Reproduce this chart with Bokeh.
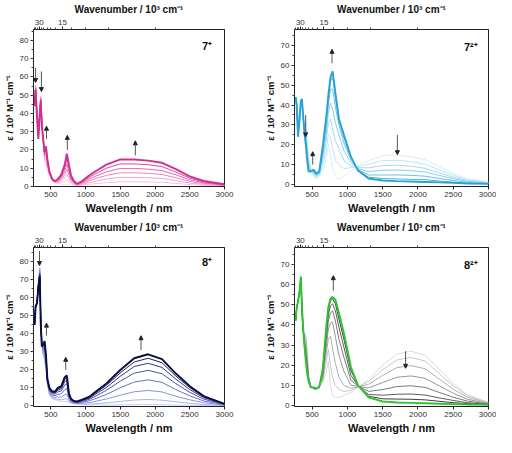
from bokeh.plotting import figure
from bokeh.layouts import gridplot
from bokeh.models import (LinearAxis, FixedTicker, CustomJSTickFormatter, Range1d,
                          Arrow, NormalHead, Label)
from bokeh.embed import file_html
from bokeh.resources import INLINE

FONT = "Liberation Sans"

# ---------------- data ----------------
WL = [265, 280, 300, 320, 340, 355, 370, 390, 410, 430, 450, 480, 520, 560, 600,
      650, 700, 730, 760, 790, 830, 880, 950, 1050, 1150, 1300, 1500, 1700, 1900,
      2100, 2300, 2500, 2700, 3000]

x_ticks = [500, 1000, 1500, 2000, 2500, 3000]
wavenumber_ticks = [30, 15]
wavenumber_minor = [37.5, 35, 32.5, 27.5, 25, 22.5, 20, 17.5, 12.5, 10, 7.5, 5]

# panel 1 : 7+
p1_curves = [
    [46, 56, 42, 29, 42, 50, 38, 24, 13, 12, 9, 6, 3, 2, 1.5, 1.2, 1, 1, 0.8, 0.6, 0.5, 0.4, 0.3, 0.2, 0.2, 0.1, 0.1, 0.1, 0.1, 0.1, 0.1, 0.1, 0.1, 0.1],
    [45.7, 55.5, 41.5, 28.5, 41.7, 49.5, 37, 24.5, 14, 13.5, 10, 6.3, 3.2, 2.2, 1.9, 2.1, 2.8, 3.8, 2.7, 1.5, 0.9, 0.6, 0.8, 1.2, 1.6, 2.1, 2.6, 2.6, 2.5, 2.3, 1.7, 1, 0.6, 0.3],
    [45.3, 55, 41, 28, 41.3, 49, 36.5, 24.5, 15, 15, 11, 6.7, 3.3, 2.3, 2.3, 3, 4.7, 6.7, 4.5, 2.4, 1.3, 0.8, 1.2, 2.1, 3, 4.1, 5, 5, 4.8, 4.4, 3.2, 1.9, 1.1, 0.5],
    [45, 54.5, 40, 27.5, 41, 48.5, 35.5, 25, 16, 17, 12, 7, 3.5, 2.5, 2.8, 3.9, 6.5, 9.5, 6.4, 3.3, 1.8, 1, 1.7, 3.1, 4.4, 6.1, 7.5, 7.5, 7.2, 6.6, 4.8, 2.8, 1.6, 0.7],
    [44.7, 54, 39.5, 27, 40.7, 48, 34.5, 25.5, 17, 18.5, 13, 7.3, 3.7, 2.7, 3.2, 4.7, 8.3, 12.3, 8.3, 4.2, 2.2, 1.1, 2.1, 4.1, 5.7, 8, 9.9, 9.9, 9.5, 8.7, 6.4, 3.7, 2, 0.8],
    [44.3, 53.5, 39, 26.5, 40.3, 47.5, 34, 25.5, 18, 20.5, 14, 7.7, 3.8, 2.8, 3.6, 5.6, 10.2, 15.2, 10.1, 5.1, 2.6, 1.3, 2.6, 5, 7.1, 10, 12.4, 12.4, 11.9, 10.9, 7.9, 4.6, 2.5, 1],
    [44, 53, 38, 26, 40, 47, 33, 26, 19, 22, 15, 8, 4, 3, 4, 6.5, 12, 18, 12, 6, 3, 1.5, 3, 6, 8.5, 12, 14.8, 14.8, 14.2, 13, 9.5, 5.5, 3, 1.2],
]
p1_colors = ["#fbe0ee", "#f5c3de", "#eea5ce", "#e788be", "#e06aae", "#d94b9d", "#d0308c"]

# panel 2 : 7(2+)
p2_curves = [
    [44, 44, 30, 28, 38, 40, 33, 30, 33, 22, 14, 8, 4, 3, 4, 7, 13, 20, 15, 8, 4, 2.5, 4, 7, 9.5, 12, 14.5, 14.8, 14, 12.5, 9, 5.5, 3, 1.2],
    [44, 43.3, 28.8, 29, 38.8, 40.6, 33.6, 29.2, 30.4, 20, 12.5, 7.7, 4.7, 3.5, 4.5, 9.5, 17, 25, 24, 18, 12, 10, 8, 8.5, 9, 10.2, 12, 12.2, 11.5, 10.3, 7.4, 4.6, 2.5, 1],
    [44, 42.5, 27.6, 30, 39.6, 41.2, 34.2, 28.4, 27.8, 18, 11, 7.4, 5.4, 4, 5, 12, 22, 31, 33, 28, 22, 18, 12, 9.5, 8.5, 8.4, 9.5, 9.7, 9.2, 8.2, 5.9, 3.7, 2, 0.8],
    [44, 41.9, 26.5, 30.8, 40.4, 41.8, 34.8, 27.7, 25.5, 16.5, 9.6, 7.2, 6, 4.4, 5.5, 14, 26, 36, 41, 38, 31, 25, 17, 11, 8, 6.5, 7.2, 7.3, 7, 6.3, 4.6, 2.9, 1.6, 0.7],
    [44, 41.2, 25.5, 31.6, 41, 42.3, 35.3, 27, 23.3, 14.8, 8.3, 6.9, 6.6, 4.9, 6, 16, 29.5, 40, 48, 48, 39, 30, 21, 12.5, 7.5, 4.8, 4.8, 4.8, 4.6, 4.2, 3.1, 2, 1.1, 0.5],
    [44, 40.6, 24.6, 32.3, 41.6, 42.7, 35.7, 26.4, 21.5, 13.2, 7.3, 6.7, 7.1, 5.2, 6.3, 17.5, 32, 43, 52, 54, 44, 32, 23.5, 13.5, 7.2, 3.7, 3, 2.8, 2.6, 2.4, 1.8, 1.2, 0.7, 0.4],
    [44, 40, 24, 33, 42, 43, 36, 26, 20, 12, 6.5, 6.5, 7.5, 5.5, 6.5, 19, 34, 45, 54, 57, 46, 33, 25, 14, 7, 3, 2, 1.7, 1.5, 1.3, 1.1, 0.8, 0.5, 0.3],
]
p2_colors = ["#d5eef8", "#bfe5f4", "#a5daef", "#88cdea", "#6cc0e4", "#4fb3dd", "#29a3d6"]

# panel 3 : 8+
p3_curves = [
    [45, 55, 58, 68, 77, 50, 36, 28, 25, 20, 12, 6, 4, 3.5, 3, 2.5, 2.5, 2.5, 2, 1.5, 1.2, 1, 0.8, 0.6, 0.5, 0.5, 0.6, 0.7, 0.8, 0.7, 0.5, 0.4, 0.3, 0.2],
    [45, 55, 58, 67.8, 76.5, 49.5, 35.7, 28.6, 26.1, 20.8, 12.3, 6.4, 4.4, 4, 3.7, 3.4, 3.9, 4, 2.5, 1.8, 1.4, 1.2, 1.1, 1, 1.3, 1.7, 2.5, 3.3, 3.6, 3.2, 2.3, 1.5, 0.8, 0.3],
    [45, 55, 57.7, 67.4, 75.6, 48.6, 35.2, 29.7, 28.1, 22.2, 12.8, 7.1, 5.1, 4.8, 5, 4.9, 6.3, 6.6, 3.4, 2.2, 1.6, 1.4, 1.6, 1.8, 2.6, 3.9, 6, 7.9, 8.6, 7.8, 5.4, 3.4, 1.8, 0.5],
    [45, 55, 57.5, 67, 74.5, 47.5, 34.5, 30.9, 30.4, 23.9, 13.5, 8, 6, 5.7, 6.4, 6.7, 9.1, 9.6, 4.5, 2.7, 2, 1.7, 2.1, 2.8, 4.2, 6.4, 10.1, 13.3, 14.5, 13.1, 9.1, 5.6, 2.8, 0.7],
    [45, 55, 57.3, 66.6, 73.6, 46.6, 34, 32.1, 32.5, 25.4, 14, 8.7, 6.7, 6.6, 7.8, 8.3, 11.7, 12.4, 5.4, 3.2, 2.3, 2, 2.6, 3.6, 5.6, 8.7, 13.8, 18.2, 19.8, 17.9, 12.4, 7.6, 3.8, 0.9],
    [45, 55, 57.2, 66.4, 72.9, 45.9, 33.5, 32.9, 34, 26.6, 14.5, 9.3, 7.3, 7.2, 8.7, 9.5, 13.6, 14.4, 6.1, 3.6, 2.5, 2.2, 3, 4.2, 6.7, 10.3, 16.5, 21.9, 23.7, 21.4, 14.9, 9.1, 4.6, 1],
    [45, 55, 57.1, 66.2, 72.4, 45.4, 33.2, 33.5, 35.1, 27.4, 14.8, 9.7, 7.7, 7.6, 9.4, 10.3, 14.9, 15.8, 6.6, 3.8, 2.7, 2.4, 3.3, 4.6, 7.4, 11.5, 18.4, 24.4, 26.5, 24, 16.6, 10.2, 5.1, 1.1],
    [45, 55, 57, 66, 72, 45, 33, 34, 36, 28, 15, 10, 8, 8, 10, 11, 16, 17, 7, 4, 2.8, 2.5, 3.5, 5, 8, 12.5, 20, 26.5, 28.7, 26, 18, 11, 5.5, 1.2],
]
p3_colors = ["#c9cff5", "#aab2ea", "#8a93d8", "#6a72c2", "#4c54a8", "#30378a", "#1a1f66", "#0b0d3d"]

# panel 4 : 8(2+)
p4_curves = [
    [42, 48, 52, 56, 62, 45, 36, 36, 36, 28, 15, 10, 8, 8, 10, 11, 17, 22, 10, 5, 4, 4, 5, 6.5, 9, 13, 20, 25.5, 27, 25, 18, 11, 5.5, 1.5],
    [42, 48, 52, 56, 62.2, 45.6, 36.5, 35.3, 34.3, 26.6, 14.6, 9.9, 8.1, 8.1, 9.9, 12, 22, 28, 20, 14, 10, 8, 7, 7.5, 9.1, 11.9, 17.8, 22.6, 23.9, 22.1, 15.9, 9.8, 4.9, 1.4],
    [42, 48, 52, 56, 62.6, 46.4, 37.1, 34.3, 32.1, 24.6, 14.2, 9.7, 8.3, 8.1, 9.7, 13, 26, 33, 34.5, 28, 21, 14, 10, 8.5, 9.3, 10.5, 15, 18.8, 19.8, 18.3, 13.2, 8.1, 4.1, 1.2],
    [42, 48, 52, 56, 63, 47.4, 37.9, 33.1, 29.3, 22.2, 13.6, 9.5, 8.5, 8.2, 9.5, 14, 29, 38, 41, 41.5, 34, 25, 17, 10, 9.5, 8.7, 11.4, 14, 14.7, 13.5, 9.8, 6.1, 3.1, 0.9],
    [42, 48, 52, 56, 63.3, 48.4, 38.7, 32, 26.6, 20, 13, 9.3, 8.7, 8.3, 9.3, 15.5, 32, 42, 46, 47, 42, 33, 24, 12.5, 9.7, 7, 7.9, 9.4, 9.8, 9, 6.5, 4.1, 2.2, 0.7],
    [42, 48, 52, 56, 63.7, 49.2, 39.3, 31, 24.4, 18, 12.5, 9.2, 8.8, 8.4, 9.2, 16.5, 35, 45, 49.5, 50.5, 47, 39, 29, 15, 9.8, 5.5, 5.1, 5.6, 5.7, 5.2, 3.8, 2.5, 1.4, 0.5],
    [42, 48, 52, 56, 63.9, 49.7, 39.7, 30.4, 23, 16.8, 12.2, 9.1, 8.9, 8.5, 9.1, 17.5, 37, 47.5, 52, 53, 50.5, 43, 33, 17.5, 9.9, 4.6, 3.3, 3.2, 3.1, 2.8, 2.1, 1.4, 0.9, 0.4],
    [42, 48, 52, 56, 64, 50, 40, 30, 22, 16, 12, 9, 9, 8.5, 9, 18, 39, 49, 53, 54, 52.5, 46, 36, 19, 10, 4, 2, 1.5, 1.3, 1.1, 0.9, 0.7, 0.5, 0.3],
]
p4_colors = ["#dcdcdc", "#c8c8c8", "#b0b0b0", "#969696", "#7a7a7a", "#5e5e5e", "#3e3e3e", "#2fc42f"]

# arrows: (wavelength, start, end)
p1_arrows = [(280, 65, 57), (364, 63, 52), (437, 26, 33), (737, 20, 28), (1716, 17, 25)]
p2_arrows = [(408, 35, 24), (508, 10, 16.5), (782, 61, 68), (1708, 25, 15)]
p3_arrows = [(336, 86, 78), (437, 39, 46), (714, 20, 27), (1798, 31, 39)]
p4_arrows = [(800, 57, 64.5), (1825, 27, 18.5)]

labels = ["7\u207a", "7\u00b2\u207a", "8\u207a", "8\u00b2\u207a"]


def make_panel(curves, colors, arrows, label, ymin, ymax, ytop, label_y,
               width, height, bl, br, bt, bb):
    p = figure(width=width, height=height, x_range=Range1d(250, 3000),
               y_range=Range1d(ymin, ymax), output_backend="svg",
               toolbar_location=None, min_border_left=bl, min_border_right=br,
               min_border_top=bt, min_border_bottom=bb)
    p.xgrid.visible = False
    p.ygrid.visible = False
    p.outline_line_color = "#222222"
    p.outline_line_width = 1
    p.background_fill_color = "white"
    p.border_fill_color = "white"

    n = len(curves)
    for i, (ys, c) in enumerate(zip(curves, colors)):
        p.line(WL, ys, line_color=c, line_width=(1.9 if i == n - 1 else 1.0))

    for (x, y0, y1) in arrows:
        p.add_layout(Arrow(end=NormalHead(size=4, fill_color="#222222", line_color="#222222"),
                           x_start=x, y_start=y0, x_end=x, y_end=y1,
                           line_color="#555555", line_width=1))

    p.add_layout(Label(x=2750, y=label_y, text=label, text_font=FONT,
                       text_font_style="bold", text_font_size="11px",
                       text_align="center", text_baseline="middle", text_color="#111111"))

    # bottom axis
    xa = p.xaxis[0]
    xa.ticker = FixedTicker(ticks=x_ticks, minor_ticks=[])
    xa.axis_label = "Wavelength / nm"
    # left axis
    ya = p.yaxis[0]
    ya.ticker = FixedTicker(ticks=list(range(0, ytop + 1, 10)),
                            minor_ticks=list(range(0, ytop + 6, 5)))
    ya.axis_label = "\u03b5 / 10\u00b3 M\u207b\u00b9 cm\u207b\u00b9"
    # top axis: wavenumber
    ta = LinearAxis(
        ticker=FixedTicker(ticks=[10000.0 / v for v in wavenumber_ticks],
                           minor_ticks=[10000.0 / v for v in wavenumber_minor]),
        formatter=CustomJSTickFormatter(code="return (10000/tick).toFixed(0)"),
        axis_label="Wavenumber / 10\u00b3 cm\u207b\u00b9")
    p.add_layout(ta, "above")

    for ax, lsize in ((xa, "11px"), (ya, "9.5px"), (ta, "10px")):
        ax.axis_label_text_font = FONT
        ax.axis_label_text_font_style = "bold"
        ax.axis_label_text_font_size = lsize
        ax.axis_label_text_color = "#111111"
        ax.axis_label_standoff = 2
        ax.major_label_text_font = FONT
        ax.major_label_text_font_size = "8px"
        ax.major_label_text_color = "#333333"
        ax.major_label_standoff = 2
        ax.major_tick_out = 3
        ax.major_tick_in = 0
        ax.minor_tick_out = 2
        ax.minor_tick_in = 0
        ax.axis_line_color = "#222222"
        ax.major_tick_line_color = "#222222"
        ax.minor_tick_line_color = "#444444"
    return p


p1 = make_panel(p1_curves, p1_colors, p1_arrows, labels[0], 0, 86, 80, 77,
                248, 218, 30, 24, 28, 32)
p2 = make_panel(p2_curves, p2_colors, p2_arrows, labels[1], -1, 78, 70, 69,
                248, 218, 46, 8, 28, 32)
p3 = make_panel(p3_curves, p3_colors, p3_arrows, labels[2], -0.3, 88, 80, 80,
                248, 219, 30, 24, 28, 31)
p4 = make_panel(p4_curves, p4_colors, p4_arrows, labels[3], -0.5, 78.5, 70, 70,
                248, 219, 46, 8, 28, 31)

grid = gridplot([[p1, p2], [p3, p4]], toolbar_location=None)

with open("out.html", "w") as f:
    f.write(file_html(grid, INLINE))
